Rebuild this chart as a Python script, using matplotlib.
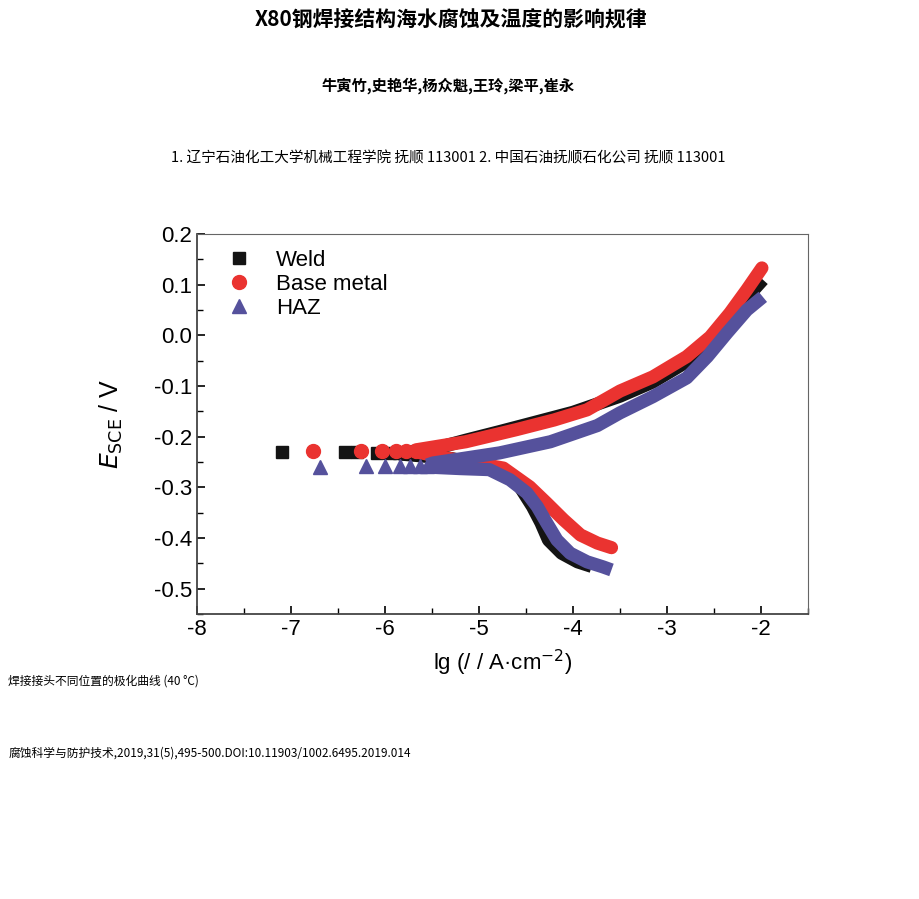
import matplotlib.pyplot as plt
from matplotlib.lines import Line2D
from matplotlib.ticker import MultipleLocator

plt.rcParams['font.family'] = ['Liberation Sans', 'DejaVu Sans']
plt.rcParams['axes.unicode_minus'] = False
cjk = ['Noto Sans CJK SC', 'DejaVu Sans']

# isolated points near the corrosion potential (lg i, E)
weld_pts_x = [-7.1, -6.42, -6.3, -6.09, -5.95, -5.85]
weld_pts_y = [-0.231, -0.231, -0.231, -0.232, -0.232, -0.232]
base_pts_x = [-6.77, -6.25, -6.03, -5.88, -5.78, -5.67]
base_pts_y = [-0.229, -0.228, -0.229, -0.228, -0.228, -0.229]
haz_pts_x = [-6.69, -6.2, -6.0, -5.84, -5.73, -5.63, -5.55]
haz_pts_y = [-0.259, -0.258, -0.258, -0.257, -0.258, -0.258, -0.258]

# anodic branches
weld_an_x = [-5.85, -5.5, -5.14, -4.78, -4.43, -4.0, -3.5, -3.15, -2.79, -2.54, -2.33, -2.15, -1.98]
weld_an_y = [-0.232, -0.225, -0.207, -0.19, -0.173, -0.152, -0.12, -0.092, -0.052, -0.013, 0.034, 0.075, 0.11]
base_an_x = [-5.67, -5.14, -4.6, -4.2, -3.85, -3.5, -3.15, -2.79, -2.54, -2.33, -2.15, -1.99]
base_an_y = [-0.226, -0.21, -0.186, -0.167, -0.147, -0.11, -0.082, -0.042, -0.003, 0.044, 0.09, 0.133]
haz_an_x = [-5.55, -5.49, -4.78, -4.24, -3.74, -3.5, -3.15, -2.79, -2.57, -2.36, -2.15, -1.98]
haz_an_y = [-0.256, -0.252, -0.232, -0.21, -0.178, -0.153, -0.121, -0.084, -0.042, 0.005, 0.05, 0.076]

# cathodic branches
weld_ca_x = [-5.85, -5.3, -4.9, -4.67, -4.56, -4.43, -4.34, -4.26, -4.12, -3.95, -3.8]
weld_ca_y = [-0.234, -0.243, -0.258, -0.275, -0.3, -0.338, -0.37, -0.404, -0.43, -0.447, -0.456]
base_ca_x = [-5.67, -5.2, -4.74, -4.46, -4.28, -4.1, -3.92, -3.74, -3.59]
base_ca_y = [-0.23, -0.247, -0.262, -0.299, -0.331, -0.364, -0.394, -0.41, -0.419]
haz_ca_x = [-5.55, -5.2, -4.89, -4.67, -4.49, -4.38, -4.28, -4.17, -4.03, -3.85, -3.68, -3.59]
haz_ca_y = [-0.26, -0.263, -0.265, -0.285, -0.311, -0.338, -0.37, -0.404, -0.43, -0.447, -0.457, -0.463]

black = '#141414'
red = '#ea3330'
blue = '#55519c'

fig = plt.figure(figsize=(9.2, 8.99), dpi=100)
ax = fig.add_axes([0.2141, 0.317, 0.6641, 0.4227])

lw = 9.5
style = dict(lw=lw, solid_joinstyle='round')
ax.plot(weld_an_x, weld_an_y, color=black, solid_capstyle='butt', **style)
ax.plot(weld_ca_x, weld_ca_y, color=black, solid_capstyle='butt', **style)
ax.plot(weld_pts_x, weld_pts_y, 's', color=black, ms=8, ls='none')
ax.plot(base_an_x, base_an_y, color=red, solid_capstyle='round', **style)
ax.plot(base_ca_x, base_ca_y, color=red, solid_capstyle='round', **style)
ax.plot(base_pts_x, base_pts_y, 'o', color=red, ms=10, ls='none')
ax.plot(haz_an_x, haz_an_y, color=blue, solid_capstyle='butt', **style)
ax.plot(haz_ca_x, haz_ca_y, color=blue, solid_capstyle='butt', **style)
ax.plot(haz_pts_x, haz_pts_y, '^', color=blue, ms=10, ls='none')

ax.set_xlim(-8, -1.5)
ax.set_ylim(-0.55, 0.2)
ax.xaxis.set_major_locator(MultipleLocator(1))
ax.xaxis.set_minor_locator(MultipleLocator(0.5))
ax.yaxis.set_major_locator(MultipleLocator(0.1))
ax.yaxis.set_minor_locator(MultipleLocator(0.05))
ax.yaxis.set_major_formatter(lambda v, p: f'{v:.1f}'.replace('-0.0', '0.0'))
ax.tick_params(which='both', direction='in', top=False, right=False, labelsize=16)
ax.tick_params(which='major', length=6, width=1.2)
ax.tick_params(which='minor', length=4, width=1.0)
for s in ['top', 'right']:
    ax.spines[s].set_color('#666666')
for s in ['left', 'bottom']:
    ax.spines[s].set_color('#444444')
    ax.spines[s].set_linewidth(1.3)

ax.set_xlabel('lg (/ / A·cm$^{-2}$)', fontsize=16, labelpad=6)
ax.set_ylabel('$E_{\\mathrm{SCE}}$ / V', fontsize=18, labelpad=21)

handles = [
    Line2D([], [], marker='s', color=black, ms=8, ls='none'),
    Line2D([], [], marker='o', color=red, ms=10, ls='none'),
    Line2D([], [], marker='^', color=blue, ms=10, ls='none'),
]
ax.legend(handles, ['Weld', 'Base metal', 'HAZ'], loc='upper left',
          frameon=False, fontsize=16, handletextpad=0.65, labelspacing=0.13,
          bbox_to_anchor=(0.0, 1.01))

fig.text(0.49, 0.978, 'X80钢焊接结构海水腐蚀及温度的影响规律', family=cjk,
         fontsize=15, fontweight='heavy', ha='center', va='center')
fig.text(0.487, 0.905, '牛寅竹,史艳华,杨众魁,王玲,梁平,崔永', family=cjk,
         fontsize=11, fontweight='bold', ha='center', va='center')
fig.text(0.487, 0.824, '1. 辽宁石油化工大学机械工程学院 抚顺 113001 2. 中国石油抚顺石化公司 抚顺 113001',
         family=cjk, fontsize=10.5, ha='center', va='center')
fig.text(0.009, 0.242, '焊接接头不同位置的极化曲线 (40 °C)', family=cjk,
         fontsize=8.5, ha='left', va='center')
fig.text(0.009, 0.162, '腐蚀科学与防护技术,2019,31(5),495-500.DOI:10.11903/1002.6495.2019.014',
         family=cjk, fontsize=8.5, ha='left', va='center')

fig.savefig('out.png', dpi=100)
